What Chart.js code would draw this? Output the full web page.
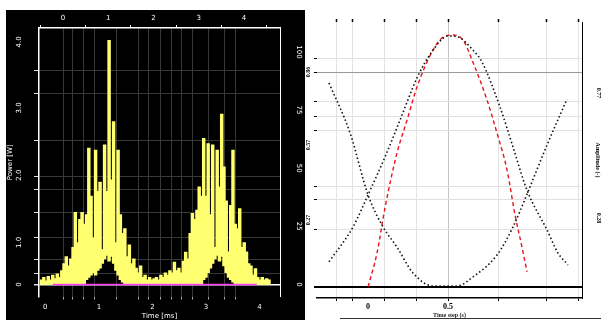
<!DOCTYPE html>
<html>
<head>
<meta charset="utf-8">
<script src="https://cdn.jsdelivr.net/npm/chart.js@4.4.0/dist/chart.umd.min.js"></script>
<style>
  html, body { margin: 0; padding: 0; background: #fff; }
  body { width: 601px; height: 320px; position: relative; overflow: hidden; }
  #leftBox { position: absolute; left: 6px; top: 10px; width: 299px; height: 310px; background: #000; }
  #rightBox { position: absolute; left: 305px; top: 0; width: 296px; height: 320px; background: #fff; }
  #rule { position: absolute; left: 340px; top: 318px; width: 261px; border-top: 1px solid #333; }
</style>
</head>
<body>
<div id="leftBox"><canvas id="power" width="299" height="310"></canvas></div>
<div id="rightBox"><canvas id="amp" width="296" height="320"></canvas></div>
<div id="rule"></div>
<script>
// left panel: power trace, one bar per sample (low..high envelope)
const powerHigh = [
  2, 3, 1.5, 3.5, 2, 4, 2.5, 4.5, 3, 6,
  9, 12, 8, 11, 16, 31, 18, 28, 31, 26,
  30, 58.6, 38, 20, 57.8, 40, 44, 15, 60, 40,
  105, 45, 70, 18, 57.8, 30, 22, 24, 12, 17,
  9, 11, 7, 5, 8, 3, 4, 2, 3, 2,
  2.5, 3, 2, 4, 3, 5, 4, 6, 5, 9.6,
  6, 7, 5, 10, 13.9, 11, 22, 30.6, 28, 32,
  42, 38, 62.8, 38, 60.6, 30, 60, 16, 57.8, 42,
  73.3, 50.6, 36, 14, 34, 57.8, 26, 24, 32.6, 16,
  18, 14, 9, 8, 4, 6.8, 3, 2, 3, 2,
  2.5, 2
];
const powerLow = [
  0, 0, 0, 0, 0, 0, 0, 0, 0, 0,
  0, 0, 0, 0, 0, 0, 0, 0, 0, 0,
  2, 3, 4, 5, 4, 6, 7, 9, 11, 12.5,
  10, 12, 9, 6, 4, 2, 1, 0, 0, 0,
  0, 0, 0, 0, 0, 0, 0, 0, 0, 0,
  0, 0, 0, 0, 0, 0, 0, 0, 0, 0,
  0, 0, 0, 0, 0, 0, 0, 0, 0, 0,
  0, 0, 2, 3, 5, 7, 9, 11, 12.5, 10,
  12, 8, 5, 3, 2, 1, 0, 0, 0, 0,
  0, 0, 0, 0, 0, 0, 0, 0, 0, 0,
  0, 0
];
const sampleCount = 107;
const baselineSpan = [0.14, 3.95];
const timeTicks = [0, 1, 2, 3, 4];
const timeGrid = [0.42, 0.6, 0.81, 1.03, 1.63, 1.84, 2.02, 2.27, 2.44, 2.65, 2.85, 3.26, 3.45, 3.66];
const powerGrid = [4.7, 10.8, 20.3, 31, 40.9, 46.6, 62.1, 82.3, 92.2];
const powerLeftTicks = [0, 18.1, 47, 75.9, 104.3];
const powerLeftLabels = ['0', '1.0', '2.0', '3.0', '4.0'];
const powerRightTicks = [0, 25, 50, 75, 100];

// right panel: three amplitude curves
const bellT = [-0.244, -0.094, 0, 0.106, 0.2, 0.306, 0.406, 0.5, 0.5625, 0.656, 0.7125, 0.825, 0.906, 0.994, 1.119, 1.1875, 1.25];
const bellA = [0.10, 0.239, 0.367, 0.518, 0.665, 0.833, 0.944, 1.0, 0.996, 0.944, 0.896, 0.717, 0.558, 0.385, 0.227, 0.135, 0.088];
const valleyT = [-0.244, -0.1125, 0, 0.094, 0.181, 0.281, 0.406, 0.556, 0.656, 0.806, 0.906, 0.994, 1.119, 1.244];
const valleyA = [0.813, 0.614, 0.367, 0.239, 0.159, 0.056, 0.004, 0.004, 0.04, 0.127, 0.239, 0.37, 0.566, 0.749];
const redT = [0, 0.056, 0.106, 0.181, 0.244, 0.306, 0.406, 0.469, 0.531, 0.594, 0.656, 0.744, 0.806, 0.869, 0.919, 0.9625, 0.994];
const redA = [0, 0.135, 0.315, 0.534, 0.665, 0.797, 0.944, 0.996, 1.004, 0.984, 0.896, 0.745, 0.614, 0.466, 0.287, 0.159, 0.06];
const stepGrid = [-0.194, -0.094, 0.106, 0.306, 0.5, 0.8125, 1.1125, 1.3125];
const stepLabels = [0, 0.5];
const ampGrid = [0.231, 0.347, 0.402, 0.625, 0.681, 0.741, 0.853, 0.912];
const ampLeftTicks = [0.267, 0.566, 0.857];
const ampRightTicks = [0.275, 0.773];

function setTicks(values) {
  return (scale) => { scale.ticks = values.map((v) => ({ value: v })); };
}
function fixWidth(w) {
  return (scale) => { scale.width = w; scale.paddingTop = 0; scale.paddingBottom = 0; };
}
function fixHeight(h) {
  return (scale) => { scale.height = h; scale.paddingLeft = 0; scale.paddingRight = 0; };
}
// tick value from a scriptable context (scale-level contexts have no tick)
function tv(c) {
  return c && c.tick ? c.tick.value : NaN;
}

const whiteFont = { family: 'DejaVu Sans', size: 7 };

new Chart(document.getElementById('power'), {
  type: 'bar',
  data: {
    labels: Array.from({ length: sampleCount }, (_, i) => i),
    datasets: [
      {
        type: 'line',
        label: 'baseline',
        data: baselineSpan.map((t) => ({ x: t, y: 0 })),
        xAxisID: 'xt',
        yAxisID: 'y',
        borderColor: '#ff3cff',
        borderWidth: 1.5,
        pointRadius: 0,
        order: 0
      },
      {
        label: 'Power',
        data: powerHigh.map((h, i) => [powerLow[i], h]),
        xAxisID: 'x',
        yAxisID: 'y',
        backgroundColor: '#ffff70',
        borderWidth: 0,
        barThickness: 2.8,
        order: 1
      }
    ]
  },
  options: {
    responsive: false,
    animation: false,
    layout: { padding: 0 },
    plugins: { legend: { display: false }, tooltip: { enabled: false } },
    scales: {
      x: { type: 'category', display: false },
      xt: {
        type: 'linear', axis: 'x', position: 'bottom', min: 0, max: 4.265,
        afterBuildTicks: setTicks([...timeGrid, ...timeTicks]),
        afterFit: fixHeight(23.5),
        grid: {
          color: (c) => timeGrid.includes(tv(c)) ? '#383838' : 'transparent',
          tickColor: (c) => timeGrid.includes(tv(c)) ? '#aaaaaa' : 'transparent',
          tickLength: 3
        },
        border: { display: false },
        ticks: {
          autoSkip: false, maxRotation: 0, padding: 3, color: '#fff', font: whiteFont,
          callback: (v) => timeTicks.includes(v) ? String(v) : ''
        },
        title: { display: true, text: 'Time [ms]', color: '#fff', font: whiteFont, padding: 0 }
      },
      xtop: {
        type: 'linear', axis: 'x', position: 'top', min: 0, max: 4.265,
        afterBuildTicks: setTicks(timeTicks),
        afterFit: fixHeight(18),
        grid: { display: true, drawOnChartArea: false, tickLength: 3, tickColor: '#fff' },
        border: { display: true, color: '#fff', width: 1.5 },
        ticks: { autoSkip: false, maxRotation: 0, padding: 3, color: '#fff', font: whiteFont }
      },
      yl: {
        type: 'linear', axis: 'y', position: 'left', min: -5.2, max: 110.3,
        afterBuildTicks: setTicks([0, ...powerGrid, ...powerLeftTicks.slice(1)]),
        afterFit: fixWidth(33),
        grid: {
          color: (c) => tv(c) === 0 ? '#ffffff' : (powerGrid.includes(tv(c)) ? '#383838' : 'transparent'),
          lineWidth: (c) => tv(c) === 0 ? 1.5 : 1,
          tickColor: (c) => powerGrid.includes(tv(c)) || tv(c) === 0 ? '#dddddd' : 'transparent',
          tickLength: 5
        },
        border: { display: true, color: '#fff', width: 1.5 },
        ticks: {
          autoSkip: false, minRotation: 90, padding: 9, crossAlign: 'center', color: '#fff', font: whiteFont,
          callback: (v) => {
            const k = powerLeftTicks.indexOf(v);
            return k >= 0 ? powerLeftLabels[k] : '';
          }
        },
        title: { display: true, text: 'Power [W]', color: '#fff', font: whiteFont, padding: 0 }
      },
      y: {
        type: 'linear', position: 'right', min: -5.2, max: 110.3,
        afterBuildTicks: setTicks(powerRightTicks),
        afterFit: fixWidth(25),
        grid: { display: false },
        border: { display: true, color: '#fff', width: 1, dash: [2, 2] },
        ticks: { autoSkip: false, minRotation: -90, padding: 4, crossAlign: 'center', color: '#fff', font: whiteFont }
      }
    }
  }
});

const serifFont = { family: 'Liberation Serif', size: 8, weight: 'bold' };
const smallSerif = { family: 'Liberation Serif', size: 6, weight: 'bold' };

function curve(ts, as) {
  return ts.map((t, i) => ({ x: t, y: as[i] }));
}

new Chart(document.getElementById('amp'), {
  type: 'line',
  data: {
    datasets: [
      {
        label: 'falling-rising',
        data: curve(valleyT, valleyA),
        borderColor: '#111',
        borderWidth: 1.6,
        borderDash: [1.5, 2.5],
        cubicInterpolationMode: 'monotone',
        pointRadius: 0
      },
      {
        label: 'bell',
        data: curve(bellT, bellA),
        borderColor: '#111',
        borderWidth: 1.6,
        borderDash: [1.5, 2.5],
        cubicInterpolationMode: 'monotone',
        pointRadius: 0
      },
      {
        label: 'window',
        data: curve(redT, redA),
        borderColor: '#e8141c',
        borderWidth: 1.4,
        borderDash: [4, 3],
        cubicInterpolationMode: 'monotone',
        pointRadius: 0
      }
    ]
  },
  options: {
    responsive: false,
    animation: false,
    layout: { padding: 0 },
    plugins: { legend: { display: false }, tooltip: { enabled: false } },
    scales: {
      x: {
        type: 'linear', position: 'bottom', min: -0.319, max: 1.3375,
        afterBuildTicks: setTicks([...stepGrid, 0]),
        afterFit: fixHeight(22),
        grid: {
          color: (c) => tv(c) === 0.5 ? '#c4c4c4' : (stepGrid.includes(tv(c)) ? '#e2e2e2' : 'transparent'),
          tickColor: (c) => stepGrid.includes(tv(c)) ? '#000' : 'transparent',
          tickLength: 3
        },
        border: { display: true, color: '#000', width: 1.5 },
        ticks: {
          autoSkip: false, maxRotation: 0, padding: 1, color: '#000', font: serifFont,
          callback: (v) => stepLabels.includes(v) ? String(v) : ''
        },
        title: { display: true, text: 'Time step (s)', color: '#222', font: smallSerif, padding: { top: 0, bottom: 1.4 } }
      },
      xtop: {
        type: 'linear', axis: 'x', position: 'top', min: -0.319, max: 1.3375,
        afterBuildTicks: setTicks(stepGrid),
        afterFit: fixHeight(22),
        grid: { display: true, drawOnChartArea: false, tickLength: 3, tickColor: '#000', tickWidth: 1.5 },
        border: { display: false },
        ticks: { autoSkip: false, maxRotation: 0, font: smallSerif, callback: () => '' }
      },
      y: {
        type: 'linear', position: 'left', min: -0.044, max: 1.056,
        afterBuildTicks: setTicks([0, ...ampGrid, ...ampLeftTicks]),
        afterFit: fixWidth(12),
        grid: {
          color: (c) => tv(c) === 0 ? '#000' : tv(c) === 0.853 ? '#9a9a9a' : (ampGrid.includes(tv(c)) ? '#e0e0e0' : 'transparent'),
          lineWidth: (c) => tv(c) === 0 ? 2 : 1,
          tickColor: (c) => ampLeftTicks.includes(tv(c)) ? 'transparent' : '#000',
          tickLength: 3
        },
        border: { display: false },
        ticks: {
          autoSkip: false, minRotation: 90, padding: 0, crossAlign: 'center', color: '#000', font: smallSerif,
          callback: (v) => ampLeftTicks.includes(v) ? v.toFixed(2) : ''
        }
      },
      yr: {
        type: 'linear', axis: 'y', position: 'right', min: -0.044, max: 1.056,
        afterBuildTicks: setTicks(ampRightTicks),
        afterFit: fixWidth(19),
        grid: { display: false },
        border: { display: true, color: '#000', width: 1, dash: [1.5, 1.5] },
        ticks: {
          autoSkip: false, minRotation: -90, padding: 3, crossAlign: 'center', color: '#000', font: smallSerif,
          callback: (v) => v.toFixed(2)
        },
        title: { display: true, text: 'Amplitude (-)', color: '#000', font: smallSerif, padding: 0 }
      }
    }
  }
});
</script>
</body>
</html>
